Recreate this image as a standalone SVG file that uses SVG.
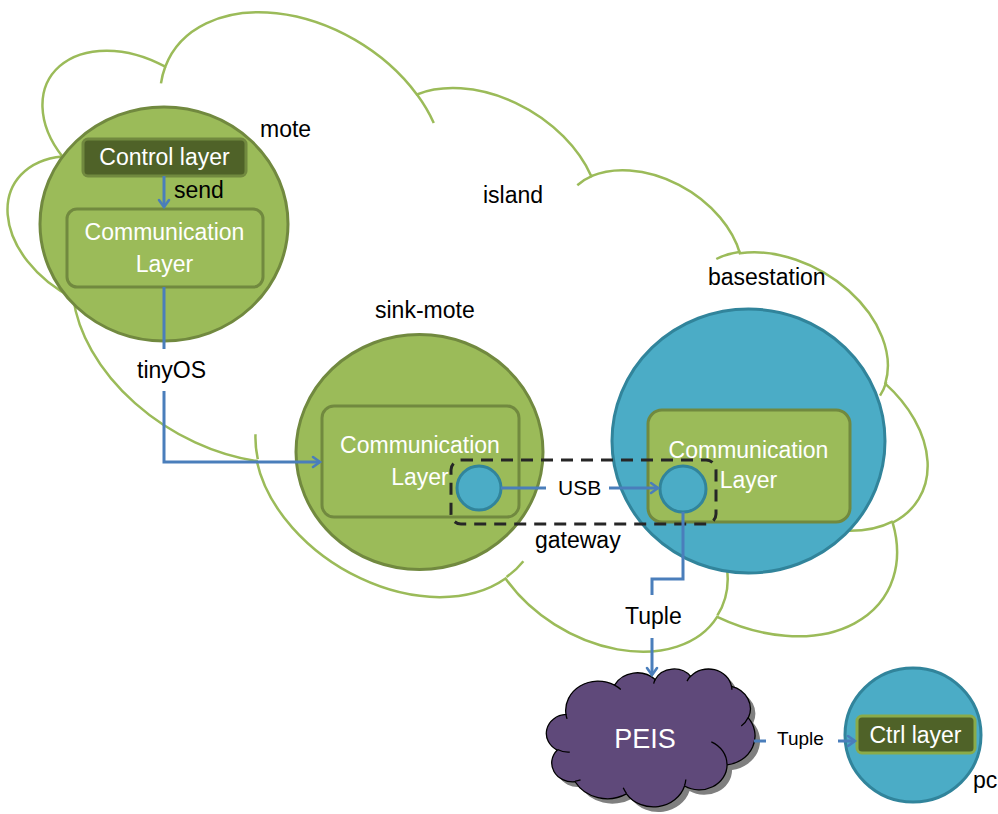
<svg xmlns="http://www.w3.org/2000/svg" xmlns:xlink="http://www.w3.org/1999/xlink" width="998" height="814" viewBox="0 0 998 814">
  <style>
    .lbl { font-family: "Liberation Sans", Arial, sans-serif; font-size: 23px; fill: #000; }
    .in { font-family: "Liberation Sans", Arial, sans-serif; font-size: 23px; fill: #fff; text-anchor: middle; }
    .greenNode { fill: #9bbb59; stroke: #71893f; stroke-width: 3; }
    .blueNode { fill: #4bacc6; stroke: #31849b; stroke-width: 3; }
    .layerBox { fill: #9bbb59; stroke: #71893f; stroke-width: 3; }
    .ctrlBox { fill: #4f6228; stroke: #71893f; stroke-width: 3; }
    .port { fill: #4bacc6; stroke: #31849b; stroke-width: 3; }
    .link { fill: none; stroke: #4a7ebb; stroke-width: 3; }
  </style>
  <defs>
    <!-- cloud shape in a 43200 x 43200 unit box -->
    <path id="cloudOutline" vector-effect="non-scaling-stroke" d="M3900,14370 A6753,9190 0 0 1 14005,5202 A5333,7267 0 0 1 22458,3435 A4365,5945 0 0 1 29835,2483 A4857,6595 0 0 1 38319,5580 A5333,7273 0 0 1 41820,15464 A6775,9220 0 0 1 37406,30207 A5785,7867 0 0 1 28558,36817 A6752,9215 0 0 1 16481,39267 A7720,10543 0 0 1 5804,35471 A4360,5918 0 0 1 2114,25548 A4345,5945 0 0 1 3900,14370 Z"/>
    <path id="cloudInner" vector-effect="non-scaling-stroke" fill="none" d="M4693,26177 A4345,5945 0 0 1 2159,25380 M6928,34899 A4360,5918 0 0 1 5819,35281 M16478,39090 A6752,9215 0 0 1 15811,37351 M28827,34751 A6752,9215 0 0 1 28560,36660 M34129,22954 A5785,7867 0 0 1 37381,30090 M41798,15354 A5333,7273 0 0 1 40348,18032 M38324,5426 A4857,6595 0 0 1 38400,6690 M29078,3952 A4857,6595 0 0 1 29820,2340 M22141,4720 A4365,5945 0 0 1 22500,3330 M14000,5192 A6753,9190 0 0 1 15302,6543 M4127,15789 A6753,9190 0 0 1 3900,14370"/>
    <marker id="arrow" viewBox="0 0 12 12" refX="9" refY="6" markerWidth="12" markerHeight="12" markerUnits="userSpaceOnUse" orient="auto" overflow="visible">
      <path d="M2,1 L9,6 L2,11" fill="none" stroke="#4a7ebb" stroke-width="2.6" stroke-linecap="round" stroke-linejoin="miter"/>
    </marker>
    <filter id="soft" x="-10%" y="-10%" width="120%" height="120%">
      <feGaussianBlur stdDeviation="1.2"/>
    </filter>
  </defs>

  <rect width="998" height="814" fill="#fff"/>

  <!-- island: rotated cloud outline -->
  <g id="island" transform="matrix(0.019359 0.011738 -0.0061066 0.009908 177.5 -121.47)" stroke="#9bbb59" stroke-width="2.5">
    <use xlink:href="#cloudOutline" fill="none"/>
    <use xlink:href="#cloudInner"/>
  </g>
  <text class="lbl" x="483" y="203">island</text>

  <!-- mote -->
  <g id="mote">
    <ellipse class="greenNode" cx="164" cy="224" rx="124" ry="117"/>
    <rect class="ctrlBox" x="83" y="139" width="163" height="37" rx="5"/>
    <text class="in" x="164.5" y="165">Control layer</text>
    <rect class="layerBox" x="67" y="209" width="196" height="78" rx="10"/>
    <text class="in" x="164.5" y="240">Communication</text>
    <text class="in" x="164.5" y="272">Layer</text>
    <text class="lbl" x="260" y="137">mote</text>
  </g>

  <!-- sink-mote -->
  <g id="sink-mote">
    <ellipse class="greenNode" cx="419.5" cy="452" rx="123.5" ry="117.5"/>
    <rect class="layerBox" x="322" y="406" width="197" height="111" rx="12"/>
    <text class="in" x="420" y="453">Communication</text>
    <text class="in" x="420" y="485">Layer</text>
    <circle class="port" cx="479" cy="488" r="22"/>
    <text class="lbl" x="375" y="318">sink-mote</text>
  </g>

  <!-- basestation -->
  <g id="basestation">
    <ellipse class="blueNode" cx="748.5" cy="441" rx="136.5" ry="132"/>
    <rect class="layerBox" x="648" y="410" width="202" height="112" rx="14"/>
    <text class="in" x="748.5" y="458">Communication</text>
    <text class="in" x="748.5" y="488">Layer</text>
    <circle class="port" cx="683" cy="489" r="23"/>
    <text class="lbl" x="708" y="285">basestation</text>
  </g>

  <!-- gateway boundary -->
  <g id="gateway">
    <rect x="451" y="460" width="265" height="64" rx="10" fill="none" stroke="#262626" stroke-width="3" stroke-dasharray="12 8"/>
    <text class="lbl" x="535" y="548">gateway</text>
  </g>

  <!-- PEIS -->
  <g id="peis">
    <use xlink:href="#cloudOutline" transform="translate(5 5) matrix(0.004809 0 0 0.003193 547.2 668.5)" fill="#7f7f7f" stroke="none" filter="url(#soft)"/>
    <g transform="matrix(0.004809 0 0 0.003193 547.2 668.5)" stroke="#000" stroke-width="1.3">
      <use xlink:href="#cloudOutline" fill="#5f497a"/>
      <use xlink:href="#cloudInner"/>
    </g>
    <text class="in" x="645" y="748" style="font-size:27px">PEIS</text>
  </g>

  <!-- pc -->
  <g id="pc">
    <ellipse class="blueNode" cx="913" cy="735" rx="68" ry="67"/>
    <rect x="857" y="716" width="118" height="37" rx="5" fill="#4f6228" stroke="#8aab4a" stroke-width="3"/>
    <text class="in" x="915.5" y="743">Ctrl layer</text>
    <text class="lbl" x="973" y="788">pc</text>
  </g>

  <!-- connectors -->
  <g id="connectors">
    <path class="link" d="M164,176 V207" marker-end="url(#arrow)"/>
    <path class="link" d="M164,287 V349 M164,391 V462 H320" marker-end="url(#arrow)"/>
    <path class="link" d="M501,488 H546 M609,488 H658" marker-end="url(#arrow)"/>
    <path class="link" d="M683,512 V579 H652 V595 M652,638 V675" marker-end="url(#arrow)"/>
    <path class="link" d="M754,741 H766 M838,741 H855" marker-end="url(#arrow)"/>
    <text class="lbl" x="174" y="198">send</text>
    <text class="lbl" x="137" y="378">tinyOS</text>
    <text class="lbl" x="558" y="495" style="font-size:21px">USB</text>
    <text class="lbl" x="625" y="624">Tuple</text>
    <text class="lbl" x="777" y="745" style="font-size:19px">Tuple</text>
  </g>
</svg>
